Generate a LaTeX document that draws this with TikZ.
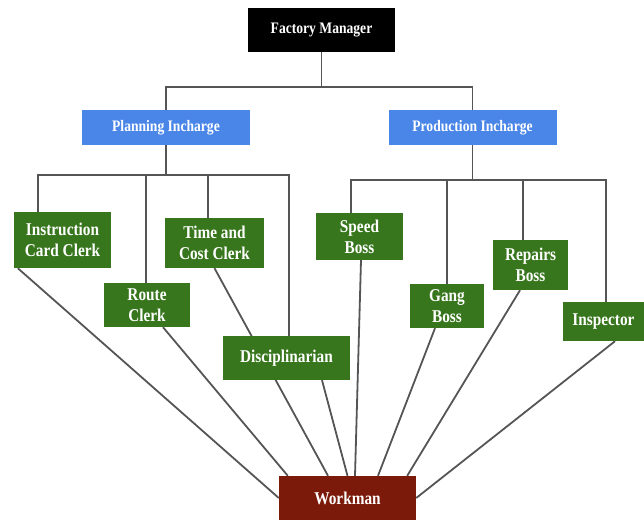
\documentclass[tikz,border=0pt]{standalone}
\usepackage{fontspec}
\setmainfont[FakeStretch=0.85]{Liberation Serif}
\usetikzlibrary{positioning, backgrounds}

\definecolor{planblue}{HTML}{4A86E8}
\definecolor{bossgreen}{HTML}{38761D}
\definecolor{workred}{HTML}{7B1A0B}
\definecolor{linegray}{HTML}{555555}

\def\headfont{\bfseries\fontsize{16}{18}\selectfont}
\def\boxfont{\bfseries\fontsize{18}{21}\selectfont}

\begin{document}
\begin{tikzpicture}[x=1pt, y=-1pt,
    chart/.style={text=white, align=center, inner sep=0pt, font=\boxfont},
    head/.style={chart, fill=planblue, font=\headfont, minimum width=168pt, minimum height=35pt},
    staff/.style={chart, fill=bossgreen},
    link/.style={draw=linegray, line width=1.8pt}]
    \useasboundingbox (0,0) rectangle (644,529);

    % top of the chart
    \node[chart, fill=black, font=\headfont, minimum width=147pt, minimum height=44pt] (manager) at (321.5,30) {Factory Manager};
    \node[head] (planning) at (166,127.5) {Planning Incharge};
    \node[head] (production) at (472.5,127.5) {Production Incharge};

    % functional bosses
    \foreach \name/\x/\y/\w/\h/\txt in {
        instruction/62.5/240/97/56/{Instruction\\Card Clerk},
        route/147/305/86/44/{Route\\Clerk},
        time/214.5/243/99/50/{Time and\\Cost Clerk},
        disc/286.5/358/127/44/{Disciplinarian},
        speed/359.5/236.5/87/47/{Speed\\Boss},
        gang/447/306/74/44/{Gang\\Boss},
        repairs/530.5/265/75/50/{Repairs\\Boss},
        inspector/603.5/321.5/81/39/{Inspector}}{

        \node[staff, minimum width=\w pt, minimum height=\h pt] (\name) at (\x,\y) {\txt};
    }

    \node[chart, fill=workred, minimum width=137pt, minimum height=44pt] (workman) at (347.5,498) {Workman};

    % bars
    \coordinate (topbar) at (0,87);
    \coordinate (planleft) at (37,175);
    \coordinate (planright) at (290,175);
    \coordinate (prodleft) at (350,180);
    \coordinate (prodright) at (607,180);

    \begin{scope}[on background layer]
        \draw[link] (manager.south) -- (manager |- topbar);
        \draw[link] (planning.north) |- (manager |- topbar) -| (production.north);

        \draw[link] (planning.south) -- (planning |- planleft);
        \draw[link] (planleft) -- (planright);
        \foreach \name/\bx in {instruction/38, route/146, time/208, disc/289}
        {
            \draw[link] (\bx,175) -- (\bx,175 |- \name.north);
        }

        \draw[link] (production.south) -- (production |- prodleft);
        \draw[link] (prodleft) -- (prodright);
        \foreach \name/\bx in {speed/351, gang/447, repairs/523, inspector/606}
        {
            \draw[link] (\bx,180) -- (\bx,180 |- \name.north);
        }

        % lines down to the workman
        \draw[link] ([xshift=4pt]instruction.south west) -- (workman.west);
        \draw[link] ([xshift=16pt]route.south) -- ([xshift=9pt]workman.north west);
        \draw[link] (time.south) -- ([xshift=-19.5pt]workman.north);
        \draw[link] ([xshift=35.5pt]disc.south) -- (workman.north);
        \draw[link] ([xshift=1.5pt]speed.south) -- ([xshift=7.5pt]workman.north);
        \draw[link] ([xshift=-12pt]gang.south) -- ([xshift=30.5pt]workman.north);
        \draw[link] ([xshift=-10.5pt]repairs.south) -- ([xshift=-9pt]workman.north east);
        \draw[link] ([xshift=11.5pt]inspector.south) -- (workman.east);
    \end{scope}
\end{tikzpicture}
\end{document}
